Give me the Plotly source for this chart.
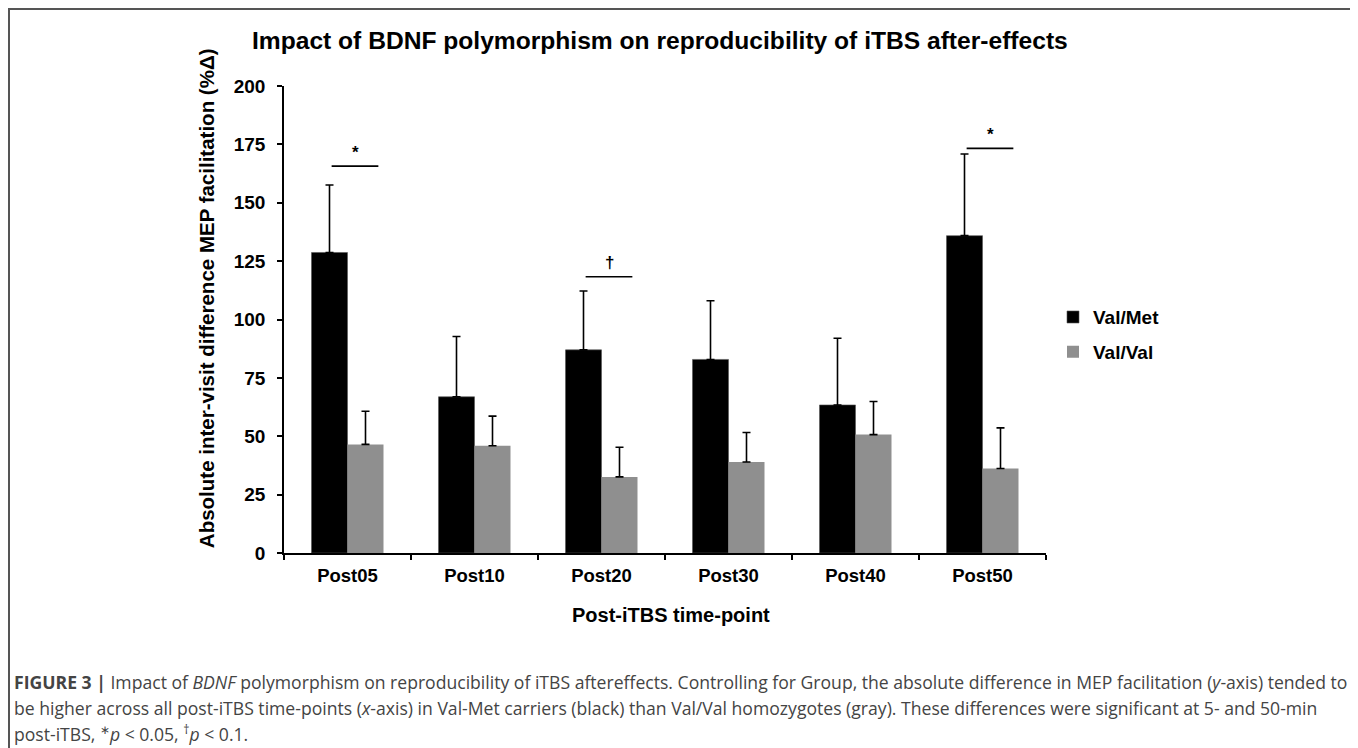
import plotly.graph_objects as go

# ---------------- data ----------------
categories = ["Post05", "Post10", "Post20", "Post30", "Post40", "Post50"]
val_met = [128.7, 66.9, 87.0, 82.9, 63.4, 135.9]
val_met_err = [28.9, 25.8, 25.2, 25.1, 28.6, 35.0]
val_val = [46.5, 45.9, 32.6, 39.0, 50.7, 36.2]
val_val_err = [14.2, 12.7, 12.7, 12.6, 14.2, 17.4]
y_ticks = [0, 25, 50, 75, 100, 125, 150, 175, 200]

sig_categories = ["Post05", "Post20", "Post50"]
sig_heights = [165.7, 118.3, 173.3]
sig_labels = ["*", "†", "*"]

# ---------------- layout geometry ----------------
# page body has an 8px margin; screen coords are converted to figure coords
OFF = 8
W, H = 1350, 740
PL, PR, PT, PB = 284 - OFF, 1046 - OFF, 86 - OFF, 552.7 - OFF


def sx(px):
    return (px - OFF - PL) / (PR - PL)


def sy(py):
    return (PB - (py - OFF)) / (PB - PT)


FONT = "Liberation Sans, Arial, sans-serif"

fig = go.Figure()
fig.add_trace(go.Bar(
    x=categories, y=val_met, name="Val/Met",
    marker=dict(color="#000000", line=dict(color="#555555", width=0.6)),
    error_y=dict(type="data", array=val_met_err, symmetric=False,
                 arrayminus=[0] * len(val_met_err),
                 color="#000000", thickness=1.6, width=4),
    legendgroup="a",
))
fig.add_trace(go.Bar(
    x=categories, y=val_val, name="Val/Val",
    marker=dict(color="#8f8f8f", line=dict(width=0)),
    error_y=dict(type="data", array=val_val_err, symmetric=False,
                 arrayminus=[0] * len(val_val_err),
                 color="#000000", thickness=1.6, width=4),
    legendgroup="b",
))

shapes = []
annotations = []

# significance bars
for cat, h, lab in zip(sig_categories, sig_heights, sig_labels):
    i = categories.index(cat)
    shapes.append(dict(type="line", xref="x", yref="y",
                       x0=i - 0.125, x1=i + 0.243, y0=h, y1=h,
                       line=dict(color="#000000", width=1.6)))
    annotations.append(dict(xref="x", yref="y", x=i + 0.06, y=h + 1,
                            text=lab, showarrow=False, yanchor="bottom",
                            font=dict(family=FONT, size=17, color="#000000", weight="bold")))

# outer frame
shapes.append(dict(type="rect", xref="paper", yref="paper",
                   x0=sx(9), x1=sx(1355), y0=sy(9), y1=sy(800),
                   line=dict(color="#555555", width=2), layer="below"))

# title
annotations.append(dict(xref="paper", yref="paper", x=sx(660), y=sy(41),
                        text="Impact of BDNF polymorphism on reproducibility of iTBS after-effects",
                        showarrow=False, xanchor="center", yanchor="middle",
                        font=dict(family=FONT, size=24.6, color="#000000", weight="bold")))
# y-axis title
annotations.append(dict(xref="paper", yref="paper", x=sx(206), y=sy(298),
                        text="Absolute inter-visit difference MEP facilitation (%Δ)",
                        showarrow=False, textangle=-90, xanchor="center", yanchor="middle",
                        font=dict(family=FONT, size=20.5, color="#000000", weight="bold")))
# x-axis title
annotations.append(dict(xref="paper", yref="paper", x=sx(671), y=sy(615),
                        text="Post-iTBS time-point",
                        showarrow=False, xanchor="center", yanchor="middle",
                        font=dict(family=FONT, size=20, color="#000000", weight="bold")))

# caption
cap_lines = [
    "<b>FIGURE 3 |</b> Impact of <i>BDNF</i> polymorphism on reproducibility of iTBS aftereffects. "
    "Controlling for Group, the absolute difference in MEP facilitation (<i>y</i>-axis) tended to",
    "be higher across all post-iTBS time-points (<i>x</i>-axis) in Val-Met carriers (black) than "
    "Val/Val homozygotes (gray). These differences were significant at 5- and 50-min",
    "post-iTBS, <sup>∗</sup><i>p</i> &lt; 0.05, <sup>†</sup><i>p</i> &lt; 0.1.",
]
cap_y = [682, 708, 733]
for t, yy in zip(cap_lines, cap_y):
    annotations.append(dict(xref="paper", yref="paper", x=sx(12), y=sy(yy),
                            text=t, showarrow=False, xanchor="left", yanchor="middle",
                            align="left",
                            font=dict(family="Open Sans, sans-serif", size=17.6, color="#444444")))

fig.update_layout(
    width=W, height=H,
    margin=dict(l=PL, r=W - PR, t=PT, b=H - PB, pad=0),
    paper_bgcolor="white", plot_bgcolor="white",
    barmode="group", bargap=0.433, bargroupgap=0,
    showlegend=True,
    legend=dict(x=sx(1053), y=sy(298), xanchor="left", yanchor="top",
                font=dict(family=FONT, size=19, color="#000000", weight="bold"),
                traceorder="grouped", tracegroupgap=7,
                bgcolor="rgba(0,0,0,0)", itemwidth=30),
    shapes=shapes, annotations=annotations,
    font=dict(family=FONT, color="#000000"),
)
fig.update_xaxes(
    type="category", showline=True, linecolor="#000000", linewidth=1.6,
    ticks="outside", ticklen=5, tickwidth=1.6, tickcolor="#000000",
    tickson="boundaries", showgrid=False, zeroline=False, ticklabelstandoff=5,
    tickfont=dict(family=FONT, size=18.5, color="#000000", weight="bold"),
)
fig.update_yaxes(
    range=[0, 200], tickvals=y_ticks, showline=True, linecolor="#000000", linewidth=1.6,
    ticks="outside", ticklen=5, tickwidth=1.6, tickcolor="#000000",
    showgrid=False, zeroline=False, ticklabelstandoff=8,
    tickfont=dict(family=FONT, size=19, color="#000000", weight="bold"),
)

fig.write_html("out.html")
